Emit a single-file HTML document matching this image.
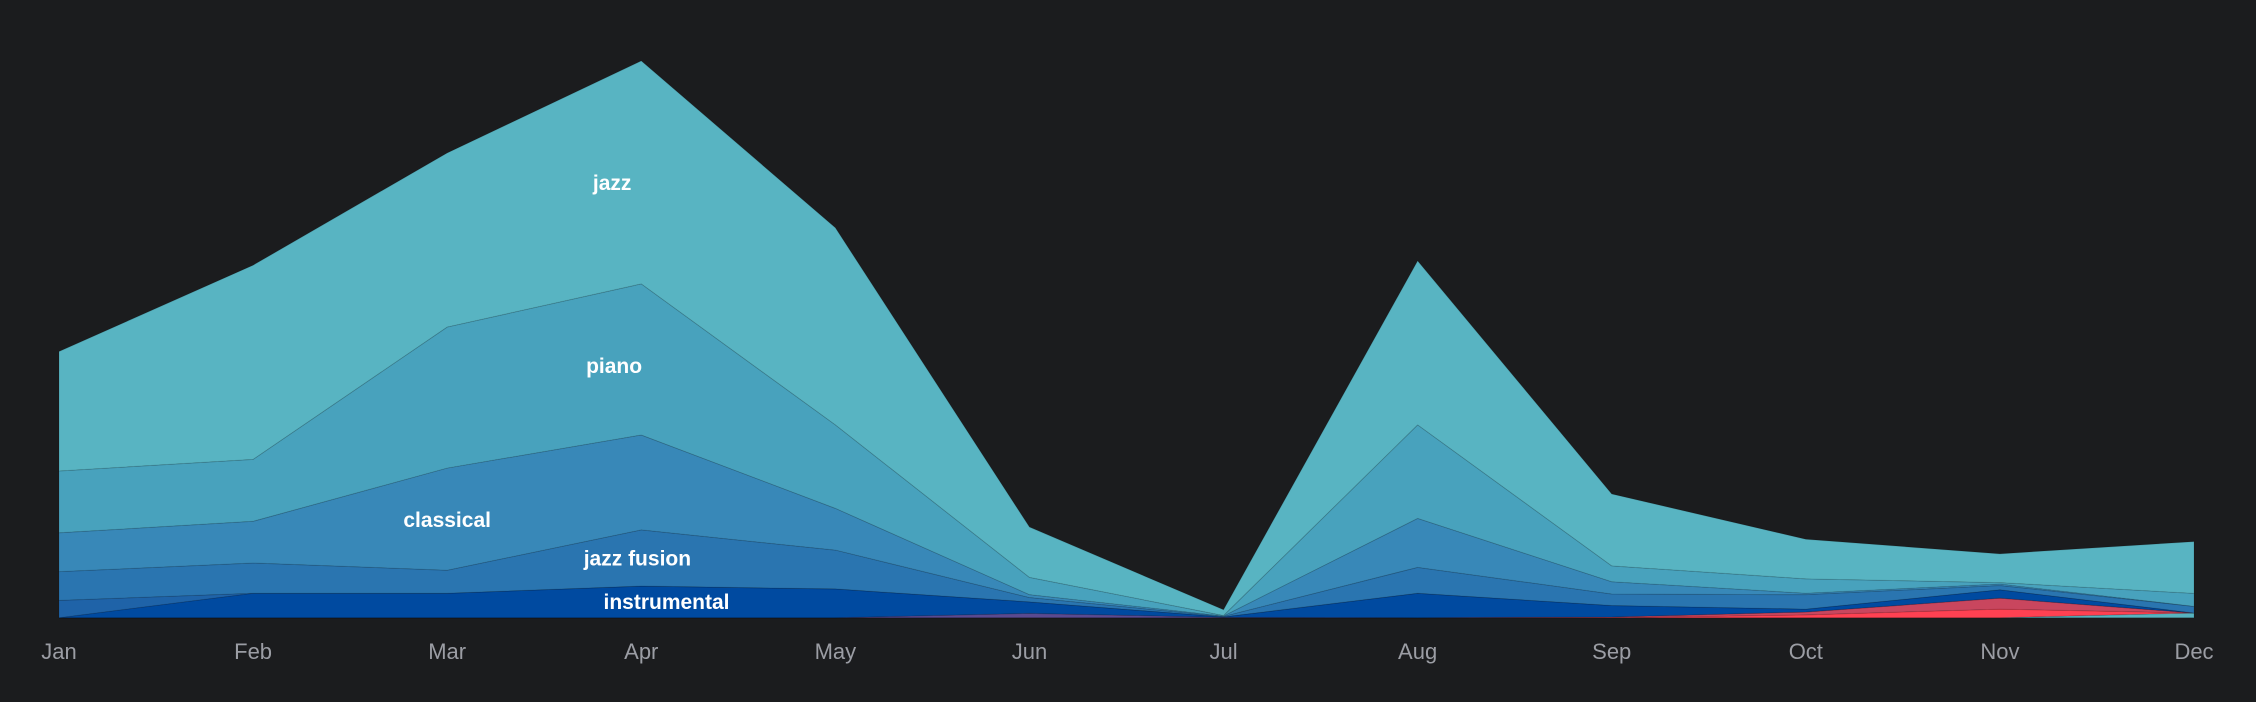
<!DOCTYPE html>
<html><head><meta charset="utf-8"><style>
html,body{margin:0;padding:0;background:#1b1c1e;}
svg{display:block;}
</style></head><body>
<svg id="chart" width="2256" height="702" xmlns="http://www.w3.org/2000/svg">
<rect width="2256" height="702" fill="#1b1c1e"/>
<g id="areas"></g>
<g id="labels"></g>
<g id="xaxis"></g>
</svg>
<script>
const months = ["Jan","Feb","Mar","Apr","May","Jun","Jul","Aug","Sep","Oct","Nov","Dec"];
const seriesNames = ["teal-minor","red-bright","red-dark","purple","instrumental","electronic","jazz fusion","classical","piano","jazz"];
const tealMinor   = [0,0,0,0,0,0,0,0,0,0,0,3.3];
const redBright   = [0,0,0,0,0,0,0,0,0,2,6,0];
const redDark     = [0,0,0,0,0,0,0,0,0.5,2,7.6,0];
const purple      = [0,0,0,0,0,3,0.3,0,0,0,0,0];
const instrumental= [0,17,17,22,20,8,0.3,17,8,2,5.8,0];
const electronic  = [12,0,0,0,0,0,0,0,0,0,0,0];
const jazzFusion  = [20,21,16,39,27,3,0.3,18,8,10,3,4.6];
const classical   = [27,29,71,66,29,2,0.3,34,8.5,1,1,0];
const piano       = [43,43,98,105,58,12,0.3,65,11,10,1,9];
const jazz        = [83,135,121,155,137,35,4,114,50,27.5,20,36];
const seriesValues = [tealMinor,redBright,redDark,purple,instrumental,electronic,jazzFusion,classical,piano,jazz];
const colors = ["#56b3c0","#ff4152","#c9465e","#5a4a90","#004aa0","#1f63a8","#2a75b0","#3888b8","#48a2bd","#58b4c2"];
const labelNames = ["jazz","piano","classical","jazz fusion","instrumental"];
const labelMonth = [2.85,2.86,2.0,2.98,3.13];
const labelValue = [301,174,67,40,10];

const X0=59, X1=2194, BASE=617.7, K=1.4388;
const x = i => X0 + (X1-X0)*i/(months.length-1);
const y = v => BASE - v*K;
const NS="http://www.w3.org/2000/svg";
const areas=document.getElementById('areas');
let cum = months.map(()=>0);
seriesValues.forEach((vals,s)=>{
  const lower = cum.slice();
  const upper = cum.map((c,i)=>c+vals[i]);
  let d = "M"+months.map((m,i)=>x(i)+","+y(upper[i])).join("L");
  for(let i=months.length-1;i>=0;i--) d+="L"+x(i)+","+y(lower[i]);
  d+="Z";
  const p=document.createElementNS(NS,'path');
  p.setAttribute('d',d);
  p.setAttribute('fill',colors[s]);
  p.setAttribute('stroke','rgba(0,0,0,0.12)');
  p.setAttribute('stroke-width','1');
  
  
  areas.appendChild(p);
  cum = upper;
});
const lg=document.getElementById('labels');
labelNames.forEach((n,i)=>{
  const t=document.createElementNS(NS,'text');
  t.setAttribute('x', x(labelMonth[i]));
  t.setAttribute('y', y(labelValue[i]));
  t.setAttribute('text-anchor','middle');
  t.setAttribute('dominant-baseline','middle');
  t.setAttribute('fill','#ffffff');
  t.setAttribute('font-family','Liberation Sans, sans-serif');
  t.setAttribute('font-weight','bold');
  t.setAttribute('font-size','21');
  t.textContent=n;
  
  
  lg.appendChild(t);
});
const xa=document.getElementById('xaxis');
months.forEach((m,i)=>{
  const t=document.createElementNS(NS,'text');
  t.setAttribute('x', x(i));
  t.setAttribute('y', 659);
  t.setAttribute('text-anchor','middle');
  t.setAttribute('fill','#9b9da4');
  t.setAttribute('font-family','Liberation Sans, sans-serif');
  t.setAttribute('font-size','22');
  t.textContent=m;
  
  
  xa.appendChild(t);
});
</script>
</body></html>
